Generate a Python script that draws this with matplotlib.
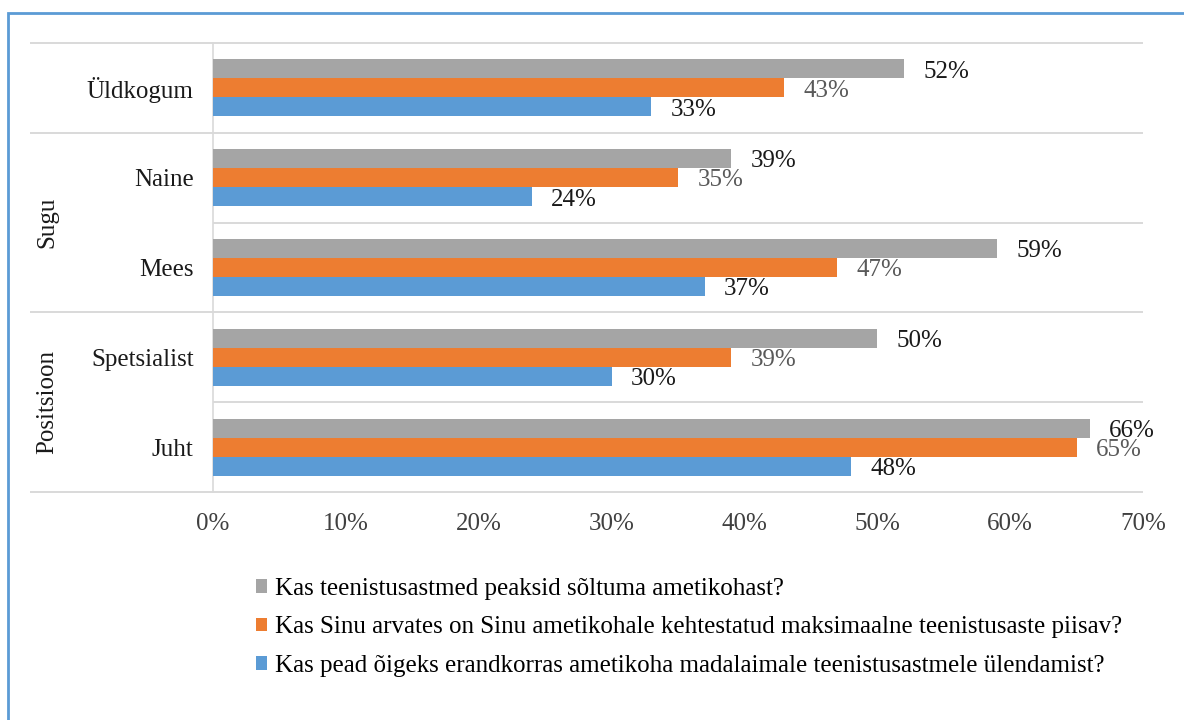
import matplotlib
matplotlib.use("Agg")
import matplotlib.pyplot as plt
import matplotlib.transforms as mtransforms
from matplotlib.patches import Rectangle, Patch

plt.rcParams['font.family'] = ['Liberation Serif', 'DejaVu Serif']

# Categories from top to bottom
categories = ["Üldkogum", "Naine", "Mees", "Spetsialist", "Juht"]
groups = [("Sugu", 1, 2), ("Positsioon", 3, 4)]

series_names = [
    "Kas teenistusastmed peaksid sõltuma ametikohast?",
    "Kas Sinu arvates on Sinu ametikohale kehtestatud maksimaalne teenistusaste piisav?",
    "Kas pead õigeks erandkorras ametikoha madalaimale teenistusastmele ülendamist?",
]
sõltuma = [52, 39, 59, 50, 66]
piisav = [43, 35, 47, 39, 65]
ülendamine = [33, 24, 37, 30, 48]
series_values = [sõltuma, piisav, ülendamine]

colors = ["#A5A5A5", "#ED7D31", "#5B9BD5"]
label_colors = ["#1a1a1a", "#595959", "#1a1a1a"]
xticks = [0, 10, 20, 30, 40, 50, 60, 70]

FS = 18
W, H = 1184, 720
fig = plt.figure(figsize=(W / 100, H / 100), dpi=100)
ax = fig.add_axes([213 / W, 1 - 492 / H, (1143 - 213) / W, (492 - 43) / H])

grid_c = "#D9D9D9"
bar_h = 0.212
offsets = [-bar_h, 0.0, bar_h]
n = len(categories)

for vals, col, lc, off in zip(series_values, colors, label_colors, offsets):
    ys = [i + off for i in range(n)]
    ax.barh(ys, vals, height=bar_h, color=col, zorder=3)
    for y, v in zip(ys, vals):
        ax.annotate(f"{v}%", xy=(v, y), xytext=(14, -2), textcoords="offset points",
                    ha="left", va="center", fontsize=FS, color=lc, zorder=4)

ax.set_xlim(0, 70)
ax.set_ylim(n - 0.5, -0.5)
ax.set_xticks(xticks)
ax.set_xticklabels([f"{t}%" for t in xticks], fontsize=FS, color="#404040")
ax.set_yticks(range(n))
ax.set_yticklabels(categories, fontsize=FS, color="#1a1a1a")
ax.tick_params(axis="x", length=0, pad=15)
ax.tick_params(axis="y", length=0, pad=14)

for s in ["top", "right", "bottom"]:
    ax.spines[s].set_visible(False)
ax.spines["left"].set_color(grid_c)
ax.spines["left"].set_linewidth(1.2)

# Horizontal separators between categories; group borders extend into the label area
trans = mtransforms.blended_transform_factory(ax.transAxes, ax.transData)
x_left = (30 - 213) / (1143 - 213)
group_edges = {-0.5, 0.5, 2.5, n - 0.5}
for k in range(n + 1):
    y = k - 0.5
    x0 = x_left if y in group_edges else 0.0
    ax.plot([x0, 1.0], [y, y], transform=trans, color=grid_c, lw=1.4,
            clip_on=False, zorder=1, solid_capstyle="butt")

# Group labels
x_grp = (47 - 213) / (1143 - 213)
for name, a, b in groups:
    ax.text(x_grp, (a + b) / 2, name, transform=trans, rotation=90,
            ha="center", va="center", fontsize=FS, color="#1a1a1a")

# Legend
handles = [Patch(facecolor=c, edgecolor="none") for c in colors]
fig.legend(handles, series_names, loc="upper left",
           bbox_to_anchor=(256 / W, 1 - 578 / H), frameon=False,
           fontsize=FS, handlelength=0.45, handleheight=0.45, handletextpad=0.3,
           labelspacing=0.66, borderaxespad=0, borderpad=0)

# Outer frame
fig.patches.append(Rectangle((8 / W, -0.1), 1.2, 1 - 13 / H + 0.1,
                             transform=fig.transFigure, fill=False,
                             edgecolor="#5B9BD5", linewidth=2.0))

fig.savefig("out.png", dpi=100, facecolor="white")
